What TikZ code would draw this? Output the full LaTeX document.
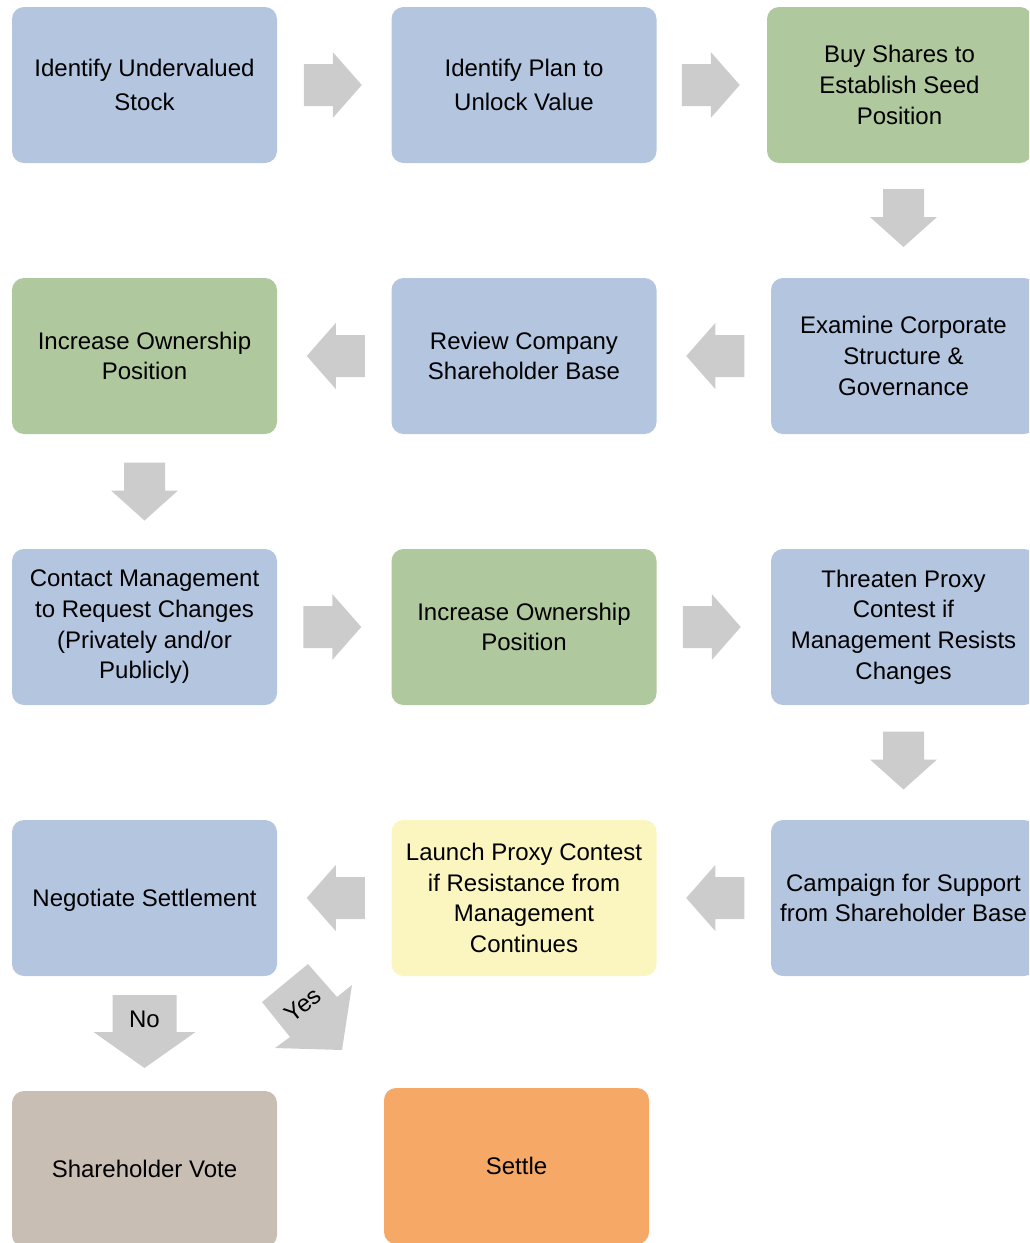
\documentclass[tikz,border=0pt]{standalone}
\usepackage{fontspec}
\setmainfont{Liberation Sans}
\usetikzlibrary{calc}
\definecolor{bxblue}{RGB}{180,197,224}
\definecolor{bxgreen}{RGB}{176,200,157}
\definecolor{bxyellow}{RGB}{251,245,192}
\definecolor{bxtan}{RGB}{201,190,179}
\definecolor{bxorange}{RGB}{246,168,102}
\definecolor{arrgray}{RGB}{204,204,204}
% #1 centre coordinate, #2 angle, #3 half length, #4 shaft half width, #5 head half width, #6 head length
\newcommand{\blockarr}[6]{%
  \fill[arrgray,shift={(#1)},rotate=#2]
    (-#3,-#4) -- (#3-#6,-#4) -- (#3-#6,-#5) -- (#3,0) -- (#3-#6,#5) -- (#3-#6,#4) -- (-#3,#4) -- cycle;}
\begin{document}
\begin{tikzpicture}[x=0.75pt,y=-0.75pt,
  box/.style={rounded corners=9pt, minimum width=198.75pt, minimum height=117pt,
    inner sep=0pt, align=center, font=\fontsize{18}{23}\selectfont, text=black},
  widebox/.style={box, font=\fontsize{18}{25.5}\selectfont},
  onebox/.style={box, text depth=0pt},
  lbl/.style={inner sep=0pt, font=\fontsize{18}{23}\selectfont}]
\useasboundingbox (0,0) rectangle (1029,1243);
\clip (0,0) rectangle (1029,1243);
% row 1
\node[widebox, fill=bxblue]  (a1) at (144.5,85) {Identify Undervalued\\Stock};
\node[widebox, fill=bxblue]  (a2) at (524,85) {Identify Plan to\\Unlock Value};
\node[box, fill=bxgreen]     (a3) at (899.5,85) {Buy Shares to\\Establish Seed\\Position};
% row 2
\node[box, fill=bxgreen] (b1) at (144.5,356) {Increase Ownership\\Position};
\node[box, fill=bxblue]  (b2) at (524,356) {Review Company\\Shareholder Base};
\node[box, fill=bxblue]  (b3) at (903.5,356) {Examine Corporate\\Structure \&\\Governance};
% row 3
\node[box, fill=bxblue]  (c1) at (144.5,627) {Contact Management\\to Request Changes\\(Privately and/or\\Publicly)};
\node[box, fill=bxgreen] (c2) at (524,627) {Increase Ownership\\Position};
\node[box, fill=bxblue]  (c3) at (903.5,627) {Threaten Proxy\\Contest if\\Management Resists\\Changes};
% row 4
\node[onebox, fill=bxblue] (d1) at (144.5,898) {Negotiate Settlement};
\node[box, fill=bxyellow]  (d2) at (524,898) {Launch Proxy Contest\\if Resistance from\\Management\\Continues};
\node[box, fill=bxblue]    (d3) at (903.5,898) {Campaign for Support\\from Shareholder Base};
% row 5
\node[onebox, fill=bxtan]    (e1) at (144.5,1169) {Shareholder Vote};
\node[onebox, fill=bxorange] (e2) at (516.5,1166) {Settle};
% connector positions
\coordinate (m12) at ($(a1.east)!0.5!(a2.west)+(-1.5,0)$);
\coordinate (m23) at ($(a2.east)!0.5!(a3.west)+(-1,0)$);
\coordinate (m34) at ($(a3.south)!0.5!(b3.north)+(2,-2.5)$);
\coordinate (m45) at ($(b3.west)!0.5!(b2.east)+(1.5,0)$);
\coordinate (m56) at ($(b2.west)!0.5!(b1.east)+(1.5,0)$);
\coordinate (m67) at ($(b1.south)!0.5!(c1.north)$);
\coordinate (m78) at ($(c1.east)!0.5!(c2.west)+(-2,0)$);
\coordinate (m89) at ($(c2.east)!0.5!(c3.west)+(-2,0)$);
\coordinate (m910) at ($(c3.south)!0.5!(d3.north)+(0,-2)$);
\coordinate (m1011) at ($(d3.west)!0.5!(d2.east)+(1.5,0)$);
\coordinate (m1112) at ($(d2.west)!0.5!(d1.east)+(1.5,0)$);
\coordinate (mno) at ($(d1.south)!0.5!(e1.north)+(0,-2)$);
\blockarr{m12}{0}{29}{21}{33}{29}
\blockarr{m23}{0}{29}{21}{33}{29}
\blockarr{m34}{-90}{29}{20.5}{33.5}{30}
\blockarr{m45}{180}{29}{21}{33}{29}
\blockarr{m56}{180}{29}{21}{33}{29}
\blockarr{m67}{-90}{29}{20.5}{33.5}{30}
\blockarr{m78}{0}{29}{21}{33}{29}
\blockarr{m89}{0}{29}{21}{33}{29}
\blockarr{m910}{-90}{29}{20.5}{33.5}{30}
\blockarr{m1011}{180}{29}{21}{33}{29}
\blockarr{m1112}{180}{29}{21}{33}{29}
\blockarr{mno}{-90}{36.5}{32}{51}{36}
\node[lbl] (no) at ($(mno)+(0,-12)$) {No};
% yes arrow
\fill[arrgray] (308,964) -- (337,997) -- (352,985) -- (342,1050) -- (275,1048) -- (290,1037) -- (262,1002) -- cycle;
\node[lbl, rotate=38] (yes) at (303,1005) {Yes};
\end{tikzpicture}
\end{document}
